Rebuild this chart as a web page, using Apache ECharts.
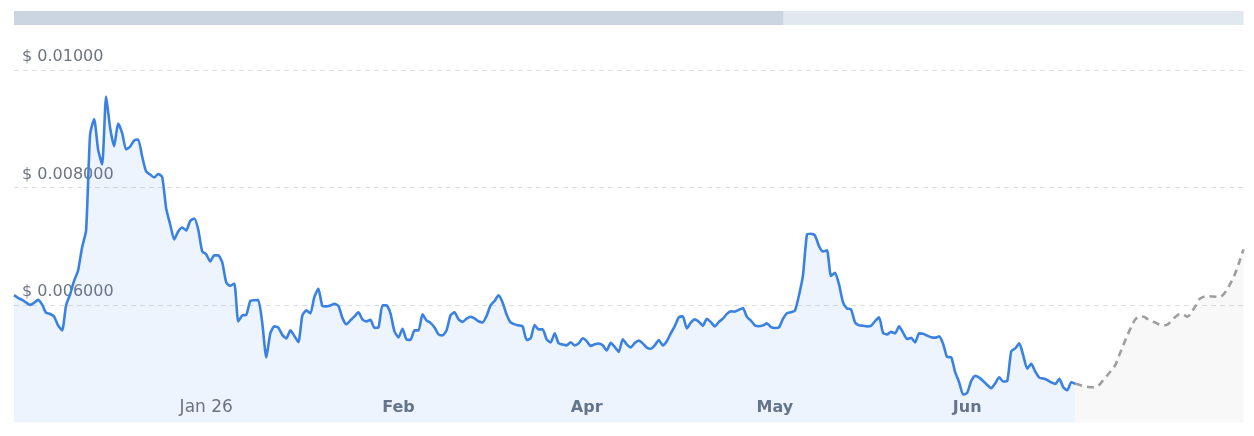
<!DOCTYPE html>
<html>
<head>
<meta charset="utf-8">
<script src="https://cdn.jsdelivr.net/npm/echarts@6/dist/echarts.min.js"></script>
<style>
html,body{margin:0;padding:0;background:#fff;}
#chart{width:1254px;height:436px;}
</style>
</head>
<body>
<div id="chart"></div>
<script>
// Price history (USD), one point per step
const history = [
0.006168,0.006121,0.006087,0.006044,0.006002,0.006036,0.006087,0.006010,0.005869,0.005847,
0.005806,0.005653,0.005568,0.005993,0.006180,0.006410,0.006588,0.006980,0.007269,0.008901,
0.009165,0.008646,0.008391,0.009548,0.009015,0.008702,0.009088,0.008927,0.008646,0.008697,
0.008799,0.008816,0.008527,0.008272,0.008221,0.008170,0.008230,0.008179,0.007643,0.007371,
0.007116,0.007252,0.007320,0.007269,0.007430,0.007473,0.007286,0.006912,0.006861,0.006742,
0.006844,0.006844,0.006724,0.006384,0.006325,0.006367,0.005721,0.005823,0.005832,0.006070,
0.006082,0.006083,0.005687,0.005109,0.005517,0.005636,0.005614,0.005491,0.005432,0.005568,
0.005474,0.005369,0.005823,0.005908,0.005857,0.006138,0.006274,0.005985,0.005976,0.005993,
0.006019,0.005985,0.005781,0.005670,0.005738,0.005806,0.005874,0.005755,0.005721,0.005747,
0.005611,0.005619,0.005993,0.005993,0.005857,0.005551,0.005449,0.005594,0.005415,0.005406,
0.005568,0.005568,0.005840,0.005738,0.005696,0.005619,0.005500,0.005483,0.005568,0.005823,
0.005874,0.005755,0.005713,0.005767,0.005801,0.005772,0.005723,0.005704,0.005815,0.005993,
0.006070,0.006163,0.006044,0.005840,0.005704,0.005670,0.005653,0.005636,0.005406,0.005432,
0.005658,0.005585,0.005585,0.005415,0.005364,0.005517,0.005347,0.005327,0.005313,0.005364,
0.005313,0.005347,0.005434,0.005386,0.005304,0.005330,0.005344,0.005313,0.005228,0.005355,
0.005287,0.005202,0.005418,0.005330,0.005279,0.005352,0.005393,0.005347,0.005274,0.005255,
0.005313,0.005403,0.005313,0.005384,0.005517,0.005641,0.005789,0.005806,0.005602,0.005701,
0.005755,0.005716,0.005645,0.005767,0.005709,0.005636,0.005713,0.005767,0.005849,0.005891,
0.005888,0.005920,0.005946,0.005798,0.005735,0.005653,0.005639,0.005653,0.005687,0.005624,
0.005609,0.005619,0.005764,0.005859,0.005876,0.005905,0.006163,0.006503,0.007201,0.007214,
0.007184,0.007002,0.006912,0.006929,0.006495,0.006546,0.006350,0.006044,0.005942,0.005925,
0.005704,0.005653,0.005648,0.005636,0.005645,0.005726,0.005789,0.005526,0.005500,0.005543,
0.005517,0.005636,0.005529,0.005423,0.005440,0.005364,0.005517,0.005512,0.005478,0.005452,
0.005444,0.005466,0.005338,0.005116,0.005109,0.004857,0.004684,0.004476,0.004505,0.004704,
0.004796,0.004765,0.004707,0.004639,0.004583,0.004667,0.004769,0.004697,0.004706,0.005211,
0.005262,0.005347,0.005143,0.004917,0.004998,0.004867,0.004764,0.004747,0.004723,0.004684,
0.004655,0.004743,0.004599,0.004548,0.004685,0.004660
];
// Forecast (USD), starts at the last history point
const forecast = [
0.004660,0.004641,0.004621,0.004609,0.004599,0.004602,0.004641,0.004724,0.004804,0.004888,
0.004981,0.005151,0.005318,0.005483,0.005633,0.005757,0.005798,0.005799,0.005764,0.005730,
0.005699,0.005668,0.005655,0.005667,0.005730,0.005798,0.005840,0.005835,0.005799,0.005881,
0.005981,0.006102,0.006138,0.006151,0.006146,0.006141,0.006134,0.006180,0.006277,0.006401,
0.006549,0.006742,0.006946
];
// X-axis tick labels: [category index, text, bold]
const tickLabels = [[48,'Jan 26',false],[96,'Feb',true],[143,'Apr',true],[190,'May',true],[238,'Jun',true]];
// Y-axis ticks
const yMin = 0.004, yMax = 0.010, yStep = 0.002;
// Top progress bar (percent filled / remaining)
const progress = [62.6, 37.4];

const total = history.length + forecast.length - 1;
const categories = Array.from({length: total}, (_, i) => String(i));
const histData = categories.map((_, i) => i < history.length ? history[i] : null);
const fcStart = history.length - 1;
const fcData = categories.map((_, i) => i >= fcStart ? forecast[i - fcStart] : null);
const tickMap = new Map(tickLabels.map(t => [t[0], t]));

const chart = echarts.init(document.getElementById('chart'), null, {renderer: 'canvas'});
chart.setOption({
  animation: false,
  backgroundColor: '#ffffff',
  grid: [
    {left: 14, right: 10.5, top: 70, bottom: 13.5},
    {left: 14, right: 10.5, top: 11, height: 14}
  ],
  xAxis: [{
    type: 'category', gridIndex: 0, data: categories, boundaryGap: false,
    axisLine: {show: false}, axisTick: {show: false}, splitLine: {show: false},
    axisLabel: {
      inside: true, margin: 5,
      interval: (i) => tickMap.has(i),
      formatter: (v) => { const t = tickMap.get(Number(v)); if (!t) return ''; return t[2] ? '{b|' + t[1] + '}' : '{n|' + t[1] + '}'; },
      rich: {
        n: {fontFamily: 'DejaVu Sans', fontSize: 17, lineHeight: 20, color: '#6b7280'},
        b: {fontFamily: 'DejaVu Sans', fontSize: 16, lineHeight: 20, fontWeight: 'bold', color: '#64748b'}
      }
    },
    z: 5
  }, {
    type: 'value', gridIndex: 1, min: 0, max: 100, show: false
  }],
  yAxis: [{
    type: 'value', gridIndex: 0, min: yMin, max: yMax, interval: yStep,
    axisLine: {show: false}, axisTick: {show: false},
    splitLine: {show: true, showMinLine: false, lineStyle: {color: '#dcdfe4', type: [5, 4], width: 1}},
    axisLabel: {
      inside: true, margin: 8, verticalAlign: 'bottom', padding: [0, 0, 5, 0],
      fontFamily: 'DejaVu Sans', fontSize: 16, color: '#6e7481',
      showMinLabel: false,
      formatter: (v) => v <= yMin ? '' : '$ ' + v.toPrecision(4)
    }
  }, {
    type: 'category', gridIndex: 1, data: ['p'], show: false
  }],
  series: [{
    type: 'line', xAxisIndex: 0, yAxisIndex: 0, data: histData,
    smooth: 0.2, symbol: 'none', connectNulls: false,
    lineStyle: {color: '#3b82e0', width: 2.6},
    areaStyle: {color: 'rgba(59,130,246,0.13)'},
    z: 3
  }, {
    type: 'line', xAxisIndex: 0, yAxisIndex: 0, data: fcData,
    smooth: 0.3, symbol: 'none',
    lineStyle: {color: '#9e9e9e', width: 2.6, type: [7, 5]},
    areaStyle: {color: 'rgba(0,0,0,0.04)'},
    z: 2
  }, {
    type: 'bar', xAxisIndex: 1, yAxisIndex: 1, stack: 'p', data: [progress[0]],
    barWidth: 14, itemStyle: {color: '#cbd5e1'}, silent: true
  }, {
    type: 'bar', xAxisIndex: 1, yAxisIndex: 1, stack: 'p', data: [progress[1]],
    barWidth: 14, itemStyle: {color: '#e2e8f0'}, silent: true
  }]
});
</script>
</body>
</html>
